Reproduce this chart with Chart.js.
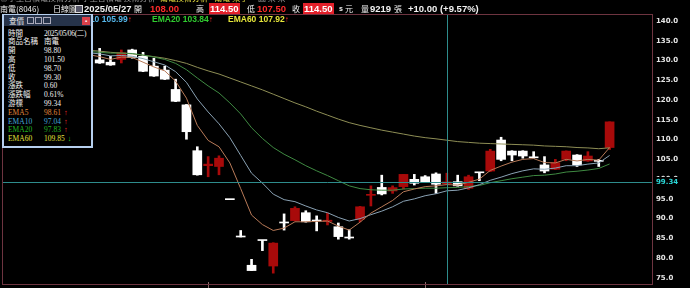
<!DOCTYPE html>
<html>
<head>
<meta charset="utf-8">
<script src="https://cdn.jsdelivr.net/npm/chart.js@4.4.1/dist/chart.umd.min.js"></script>
<style>
html, body { margin:0; padding:0; background:#000; width:690px; height:288px; overflow:hidden; }
#wrap { position:absolute; left:0; top:0; width:690px; height:288px; }
.t { position:absolute; white-space:nowrap; color:#f2f2f2; font-family:"Noto Sans CJK TC", sans-serif; font-size:8px; line-height:11px; }
.b { font-family:"Liberation Sans", Arial, sans-serif; font-weight:bold; font-size:9.5px; }
.red { color:#ff2a2a; }
.box { background:#e3202a; color:#fff; padding:0 1px; }
.ema { font-family:"Liberation Sans", Arial, sans-serif; font-weight:bold; font-size:8.5px; }
.up { color:#ff2a2a; font-size:8px; }
#info { position:absolute; left:2px; top:14px; width:91px; height:134px; box-sizing:border-box; border:2px solid #b6cfee; border-top-width:1px; background:#000; }
#bar { position:absolute; left:0; top:0; width:87px; height:11px; background:#26334a; }
.ir { position:absolute; white-space:nowrap; font-family:"Liberation Serif", "Noto Sans CJK TC", serif; font-size:7.5px; line-height:9px; color:#f2f2f2; }
</style>
</head>
<body>
<div id="wrap"><canvas id="myChart"></canvas></div>

<div class="t" style="left:0;top:-8px;color:#9a9a9a">◎小型台積電技術分析 小型台積電 技術分析</div>
<div class="t" style="left:160px;top:-8px;color:#e8e040">南電技術分析 - 南電 某子</div>
<div class="t" style="left:258px;top:-8px;color:#9a9a9a">圖 某 某</div>

<div class="t" style="left:0;top:3px">南電(8046)</div>
<div class="t" style="left:53px;top:3px">日線圖</div>
<div style="position:absolute;left:75px;top:5px;width:6px;height:6px;border:1px solid #ddd;background:#556"></div>
<div class="t b" style="left:84px;top:3px">2025/05/27</div>
<div class="t" style="left:134px;top:3px">開</div>
<div class="t b red" style="left:150px;top:3px">108.00</div>
<div class="t" style="left:196px;top:3px">高</div>
<div class="t b box" style="left:209px;top:3px">114.50</div>
<div class="t" style="left:247px;top:3px">低</div>
<div class="t b red" style="left:257px;top:3px">107.50</div>
<div class="t" style="left:292px;top:3px">收</div>
<div class="t b box" style="left:303px;top:3px">114.50</div>
<div class="t b" style="left:339px;top:3px;font-size:7px">s</div>
<div class="t" style="left:345px;top:3px">元</div>
<div class="t" style="left:361px;top:3px">量</div>
<div class="t b" style="left:370px;top:3px">9219</div>
<div class="t" style="left:394px;top:3px">張</div>
<div class="t b" style="left:408px;top:3px">+10.00 (+9.57%)</div>

<div class="t ema" style="left:14px;top:14px;color:#e0873a">EMA5 108.03<span class="up">↑</span></div>
<div class="t ema" style="left:71px;top:14px;color:#55b6ea">EMA10 105.99<span class="up">↑</span></div>
<div class="t ema" style="left:152px;top:14px;color:#30cc30">EMA20 103.84<span class="up">↑</span></div>
<div class="t ema" style="left:228px;top:14px;color:#e6e63a">EMA60 107.92<span class="up">↑</span></div>

<div id="info">
  <div id="bar">
    <div class="t" style="left:5px;top:0px;font-size:7.5px;color:#e8e8e8">查價</div>
    <div style="position:absolute;left:23px;top:2px;width:5px;height:5px;border:1px solid #aab;"></div>
    <div style="position:absolute;left:31px;top:2px;width:5px;height:5px;border:1px solid #aab;"></div>
    <div style="position:absolute;left:39px;top:2px;width:6px;height:5px;border:1px solid #aab;"></div>
    <div style="position:absolute;left:78px;top:2px;width:8px;height:8px;background:#d9404a;color:#fff;font:bold 6px sans-serif;text-align:center;line-height:8px">▪</div>
  </div>
</div>

<script>
// trading days, last four are empty future slots
var dates = [
  '2025/03/05','2025/03/06','2025/03/07','2025/03/10','2025/03/11','2025/03/12','2025/03/13','2025/03/14',
  '2025/03/17','2025/03/18','2025/03/19','2025/03/20','2025/03/21','2025/03/24','2025/03/25','2025/03/26',
  '2025/03/27','2025/03/28','2025/03/31','2025/04/01','2025/04/02','2025/04/07','2025/04/08','2025/04/09',
  '2025/04/10','2025/04/11','2025/04/14','2025/04/15','2025/04/16','2025/04/17','2025/04/18','2025/04/21',
  '2025/04/22','2025/04/23','2025/04/24','2025/04/25','2025/04/28','2025/04/29','2025/04/30','2025/05/02',
  '2025/05/05','2025/05/06','2025/05/07','2025/05/08','2025/05/09','2025/05/12','2025/05/13','2025/05/14',
  '2025/05/15','2025/05/16','2025/05/19','2025/05/20','2025/05/21','2025/05/22','2025/05/23','2025/05/26',
  '2025/05/27','2025/05/28','2025/05/29','2025/05/30','2025/06/02'
];

// candles before 03/18 sit behind the quote box
var opens = [null,null,null,null,null,null,null,null,null,
  130.2,129.6,130.3,132.7,131.1,128.6,127.6,122.7,118.8,107.2,103.4,103.2,94.8,85.4,78.2,84.5,78.0,89.0,89.5,91.5,89.5,89.3,
  87.95,85.2,89.85,95.9,97.9,97.0,98.1,99.95,100.6,101.3,98.8,99.35,97.7,101.7,102.05,109.9,107.1,107.1,105.5,103.6,102.5,
  105.0,106.1,104.6,104.6,108.0];
var highs = [null,null,null,null,null,null,null,null,null,
  133.1,131.1,132.7,132.9,132.1,130.6,128.6,125.3,118.9,108.2,105.7,105.9,94.8,87.0,79.7,84.5,83.9,91.2,93.0,92.0,90.7,91.4,
  88.9,87.2,93.1,98.3,101.0,98.3,101.2,101.2,100.9,101.6,101.5,101.0,101.0,101.7,107.55,110.6,107.2,107.2,106.95,105.7,105.0,
  107.15,106.2,106.95,105.0,114.5];
var lows = [null,null,null,null,null,null,null,null,null,
  129.3,128.8,129.4,130.6,127.2,126.0,125.2,119.6,110.1,101.0,100.6,101.1,94.8,85.35,76.85,81.9,76.2,87.1,89.4,89.1,86.9,88.4,
  84.8,84.8,89.2,93.2,96.0,96.4,97.5,98.5,99.2,96.4,98.7,98.2,97.4,99.6,101.9,104.65,104.65,105.3,105.3,101.6,102.4,
  104.65,103.2,104.5,103.2,107.5];
var closes = [null,null,null,null,null,null,null,null,null,
  129.4,128.9,132.0,130.8,127.3,126.1,125.3,119.7,112.0,101.1,103.8,105.3,94.8,85.35,76.85,84.45,83.8,88.9,92.6,89.2,89.4,89.6,
  85.45,85.1,93.0,96.0,96.25,97.85,101.2,98.95,99.35,98.7,99.3,98.3,100.6,101.6,107.1,105.0,106.1,105.85,105.4,102.05,104.15,
  107.1,103.6,105.85,104.5,114.5];

var ema5 = [null,null,null,null,null,null,null,null,
  131.5,131.0,130.3,130.9,130.8,129.6,128.4,127.4,124.8,120.5,113.6,109.8,108.2,104.1,97.6,90.9,88.5,87.0,87.6,89.2,89.2,89.3,
  89.4,88.1,87.1,89.1,91.4,93.0,94.6,96.8,97.5,98.1,98.3,98.61,98.5,99.2,100.0,102.2,103.3,104.3,105.0,105.2,104.2,104.1,
  105.0,104.6,105.0,104.8,108.0];
var ema10 = [null,null,null,null,null,null,null,null,
  132.0,131.7,131.2,131.3,131.1,130.5,129.7,128.9,127.2,124.5,120.3,117.0,114.0,110.5,106.0,101.5,99.0,96.2,94.8,94.3,93.2,92.2,
  91.5,90.3,89.4,90.0,91.0,91.9,93.0,94.4,95.0,95.8,96.3,97.04,97.2,97.8,98.6,99.7,100.5,101.4,102.1,102.6,102.5,102.8,
  103.4,103.4,103.8,104.1,105.99];
var ema20 = [null,null,null,null,null,null,null,null,
  132.3,132.1,131.9,131.9,131.8,131.4,130.9,130.3,129.3,127.7,125.6,123.6,121.8,119.3,116.5,113.0,110.3,108.0,106.3,104.9,103.4,102.1,
  100.9,99.6,98.3,97.6,97.3,97.2,97.2,97.5,97.6,97.7,97.7,97.83,97.9,98.1,98.4,99.1,99.6,100.1,100.5,100.9,101.0,101.3,
  101.8,102.0,102.3,102.7,103.84];
var ema60 = [null,null,null,null,null,null,null,null,
  132.6,132.4,132.1,131.9,131.7,131.4,131.0,130.6,130.0,129.3,128.3,127.4,126.6,125.6,124.6,123.6,122.6,121.5,120.4,119.3,118.3,117.2,
  116.2,115.2,114.3,113.6,113.0,112.4,111.9,111.4,110.9,110.5,110.2,109.85,109.5,109.3,109.1,109.0,108.9,108.8,108.7,108.6,108.4,108.3,
  108.2,108.0,107.9,107.7,107.92];

var yTicks = [75, 80, 85, 90, 95, 100, 105, 110, 115, 120, 125, 130, 135, 140];
var cursorIndex = 41;
var cursorPrice = 99.34;

// quote box rows (2025/05/06)
var infoLabels = ['時間','商品名稱','開','高','低','收','漲跌','漲跌幅','游標','EMA5','EMA10','EMA20','EMA60'];
var infoValues = ['2025/05/06(二)','南電','98.80','101.50','98.70','99.30','0.60','0.61%','99.34','98.61','97.04','97.83','109.85'];
var infoColors = ['','','','','','','','','','#e0873a','#45a8d8','#22b422','#e2e23c'];
var infoArrows = ['','','','','','','','','','up','up','up','down'];

var info = document.getElementById('info');
infoLabels.forEach(function (lab, i) {
  var top = 13.5 + i * 8.8;
  var col = infoColors[i] || '#f2f2f2';
  var a = document.createElement('div');
  a.className = 'ir';
  a.style.left = '4px'; a.style.top = top + 'px'; a.style.color = col;
  a.textContent = lab;
  info.appendChild(a);
  var v = document.createElement('div');
  v.className = 'ir';
  v.style.left = '40px'; v.style.top = top + 'px'; v.style.color = col;
  if (i == 0) v.style.letterSpacing = '-0.35px';
  v.textContent = infoValues[i];
  if (infoArrows[i]) {
    var r = document.createElement('span');
    r.style.marginLeft = '3px';
    r.style.fontWeight = 'bold';
    r.style.color = infoArrows[i] == 'up' ? '#ff2a2a' : '#22d022';
    r.textContent = infoArrows[i] == 'up' ? '↑' : '↓';
    v.appendChild(r);
  }
  info.appendChild(v);
});

var upColor = '#a80a0a';
var downColor = '#ffffff';
var candleColors = opens.map(function (o, i) {
  if (o == null) return 'rgba(0,0,0,0)';
  return closes[i] > o ? upColor : downColor;
});
var bodies = opens.map(function (o, i) { return o == null ? null : [o, closes[i]]; });
var wicks = lows.map(function (l, i) { return l == null ? null : [l, highs[i]]; });

var cursorPlugin = {
  id: 'cursor',
  afterDatasetsDraw: function (chart) {
    var ctx = chart.ctx, a = chart.chartArea;
    var x = chart.scales.x, y = chart.scales.y;
    ctx.save();
    ctx.lineWidth = 1;
    ctx.strokeStyle = '#2e8c8c';
    var cx = Math.round(x.getPixelForValue(cursorIndex)) + 0.5;
    var cy = Math.round(y.getPixelForValue(cursorPrice)) + 0.5;
    ctx.beginPath();
    ctx.moveTo(cx, a.top); ctx.lineTo(cx, a.bottom);
    ctx.moveTo(a.left, cy); ctx.lineTo(a.right, cy);
    ctx.stroke();
    // month marks on the bottom edge
    ctx.strokeStyle = '#8a6a6a';
    ctx.beginPath();
    for (var i = 1; i < dates.length; i++) {
      if (dates[i].slice(5, 7) != dates[i - 1].slice(5, 7) && closes[i] != null) {
        var mx = Math.round(x.getPixelForValue(i)) + 0.5;
        ctx.moveTo(mx, a.bottom - 3); ctx.lineTo(mx, a.bottom + 3);
      }
    }
    ctx.stroke();
    ctx.strokeStyle = '#6e3440';
    ctx.strokeRect(a.left + 0.5, a.top + 0.5, a.right - a.left - 1, a.bottom - a.top - 1);
    ctx.restore();
  },
  afterDraw: function (chart) {
    var ctx = chart.ctx, a = chart.chartArea, y = chart.scales.y;
    var cy = Math.round(y.getPixelForValue(cursorPrice));
    ctx.save();
    ctx.fillStyle = '#000';
    ctx.fillRect(a.right + 1, cy - 5, 36, 10);
    ctx.fillStyle = '#2ad6d6';
    ctx.font = 'bold 7px "DejaVu Sans"';
    ctx.textBaseline = 'middle';
    ctx.fillText(cursorPrice.toFixed(2), a.right + 3, cy + 0.5);
    ctx.restore();
  }
};

var ctx = document.getElementById('myChart').getContext('2d');
var myChart = new Chart(ctx, {
  type: 'bar',
  data: {
    labels: dates,
    datasets: [
      { type: 'line', label: 'EMA5', data: ema5, borderColor: '#b87a58', borderWidth: 1, pointRadius: 0, order: 0 },
      { type: 'line', label: 'EMA10', data: ema10, borderColor: '#8aa2b4', borderWidth: 1, pointRadius: 0, order: 0 },
      { type: 'line', label: 'EMA20', data: ema20, borderColor: '#3f8a42', borderWidth: 1, pointRadius: 0, order: 0 },
      { type: 'line', label: 'EMA60', data: ema60, borderColor: '#8e8e55', borderWidth: 1, pointRadius: 0, order: 0 },
      { label: 'body', data: bodies, backgroundColor: candleColors, barThickness: 9, minBarLength: 1, grouped: false, order: 5 },
      { label: 'wick', data: wicks, backgroundColor: candleColors, barThickness: 2, grouped: false, order: 6 }
    ]
  },
  options: {
    animation: false,
    responsive: true,
    maintainAspectRatio: false,
    layout: { padding: { left: 2, top: 14, right: 0, bottom: 3 } },
    plugins: { legend: { display: false }, tooltip: { enabled: false } },
    scales: {
      x: { display: false, offset: false },
      y: {
        position: 'right',
        min: 73.2,
        max: 141.8,
        grid: { display: false, drawTicks: false },
        border: { display: false },
        afterBuildTicks: function (s) { s.ticks = yTicks.map(function (v) { return { value: v }; }); },
        afterFit: function (s) { s.width = 37; s.paddingTop = 0; s.paddingBottom = 0; },
        ticks: {
          color: '#e6e6e6',
          padding: 3,
          font: { family: 'DejaVu Sans', size: 7, weight: 'bold' },
          callback: function (v) { return Number(v).toFixed(1); }
        }
      }
    }
  },
  plugins: [cursorPlugin]
});
</script>
</body>
</html>
